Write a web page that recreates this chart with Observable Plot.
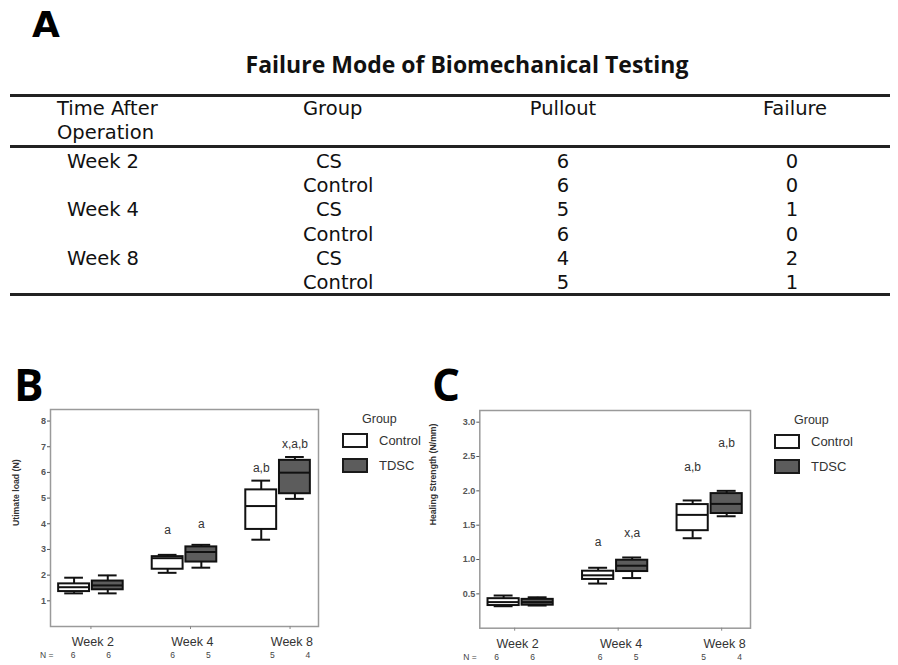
<!DOCTYPE html>
<html><head><meta charset="utf-8">
<script src="https://cdn.jsdelivr.net/npm/d3@7"></script>
<script src="https://cdn.jsdelivr.net/npm/@observablehq/plot@0.6"></script>
<style>
body{margin:0;background:#fff;}
#root{position:relative;width:898px;height:665px;overflow:hidden;font-family:"Liberation Sans",Arial,sans-serif;color:#111;}
.abs{position:absolute;}
.panel{font-family:"Open Sans",sans-serif;font-weight:700;font-size:44px;line-height:44px;color:#000;}
#title{left:0;width:934px;top:51px;text-align:center;font-family:"Open Sans",sans-serif;font-weight:700;font-size:23px;line-height:26px;color:#111;}
#tbl{position:absolute;left:10px;top:94px;width:880px;border-collapse:collapse;table-layout:fixed;font-family:"DejaVu Sans",sans-serif;font-size:19.5px;color:#111;border-top:3px solid #222;border-bottom:3px solid #222;}
#tbl td{padding:0;white-space:nowrap;}
#tbl thead tr{border-bottom:3px solid #222;}
#tbl thead td{height:48px;line-height:24px;vertical-align:top;}
#tbl thead td span{display:block;position:relative;top:0px;}
#tbl tbody td{height:24.2px;line-height:24.2px;}
#tbl tbody td span{position:relative;top:2px;}
.leg{font-family:"Liberation Sans",Arial,sans-serif;color:#333;}
.legtitle{font-size:12.5px;line-height:14px;}
.legtext{font-size:13px;line-height:16px;}
.sw{box-sizing:border-box;border:2px solid #1a1a1a;}
</style></head><body><div id="root"></div>
<script>
// ---------- Table (panel A) ----------
const tableHeader = ["Time After\nOperation", "Group", "Pullout", "Failure"];
const tableTime = ["Week 2", "", "Week 4", "", "Week 8", ""];
const tableGroup = ["CS", "Control", "CS", "Control", "CS", "Control"];
const tablePullout = [6, 6, 5, 6, 4, 5];
const tableFailure = [0, 0, 1, 0, 2, 1];

// ---------- Box plots (panels B, C) ----------
const weeks = ["Week 2", "Week 4", "Week 8"];
const groups = ["Control", "TDSC"];
const sampleN = [[6, 6], [6, 5], [5, 4]];
// [min, q1, median, q3, max] per week
const loadControl = [[1.29, 1.36, 1.53, 1.66, 1.90], [2.09, 2.23, 2.66, 2.72, 2.79], [3.38, 3.78, 4.69, 5.32, 5.68]];
const loadTDSC    = [[1.29, 1.43, 1.60, 1.77, 1.99], [2.29, 2.51, 2.90, 3.10, 3.18], [4.97, 5.17, 5.99, 6.47, 6.60]];
const loadLetters = [["", ""], ["a", "a"], ["a,b", "x,a,b"]];
const loadLetterAt = [[null, null], [3.74, 4.0], [6.18, 7.09]];
const loadTicks = [1, 2, 3, 4, 5, 6, 7, 8];

const healControl = [[0.32, 0.33, 0.38, 0.43, 0.476], [0.65, 0.71, 0.77, 0.83, 0.88], [1.31, 1.42, 1.65, 1.80, 1.86]];
const healTDSC    = [[0.33, 0.335, 0.38, 0.42, 0.45], [0.73, 0.825, 0.91, 0.99, 1.03], [1.63, 1.67, 1.81, 1.96, 2.00]];
const healLetters = [["", ""], ["a", "x,a"], ["a,b", "a,b"]];
const healLetterAt = [[null, null], [1.25, 1.38], [2.34, 2.69]];
const healTicks = [0.5, 1.0, 1.5, 2.0, 2.5, 3.0];

const root = document.getElementById("root");

function addDiv(cls, text, style) {
  const d = document.createElement("div");
  d.className = "abs " + cls;
  d.textContent = text;
  Object.assign(d.style, style);
  root.appendChild(d);
  return d;
}

// Panel letters and title
addDiv("panel", "A", {left: "32px", top: "7px", fontFamily: "'DejaVu Sans',sans-serif", fontSize: "36px", lineHeight: "36px"});
const title = addDiv("", "Failure Mode of Biomechanical Testing", {});
title.id = "title";
addDiv("panel", "B", {left: "14px", top: "362px"});
addDiv("panel", "C", {left: "432px", top: "362px"});

// Table
const tbl = d3.select(root).append("table").attr("id", "tbl");
const cg = tbl.append("colgroup");
[293, 170, 180, 237].forEach(w => cg.append("col").style("width", w + "px"));
const hr = tbl.append("thead").append("tr");
const headPad = ["0 0 0 47px", "0", "0", "0 0 0 47px"];
const headAlign = ["left", "left", "center", "center"];
tableHeader.forEach((h, j) => {
  const td = hr.append("td").style("padding", headPad[j]).style("text-align", headAlign[j]);
  h.split("\n").forEach(line => td.append("span").text(line));
});
const tb = tbl.append("tbody");
tableGroup.forEach((g, r) => {
  const tr = tb.append("tr");
  tr.append("td").style("padding-left", "57px").append("span").text(tableTime[r]);
  tr.append("td").style("padding-left", g === "CS" ? "13px" : "0").append("span").text(g);
  tr.append("td").style("text-align", "center").append("span").text(tablePullout[r]);
  tr.append("td").style("text-align", "center").style("padding-left", "41px").append("span").text(tableFailure[r]);
});

// Box plot builder
function buildRows(ctrl, tdsc, letters, letterAt) {
  const rows = [];
  weeks.forEach((w, i) => {
    [ctrl, tdsc].forEach((src, g) => {
      const [min, q1, median, q3, max] = src[i];
      rows.push({week: w, group: groups[g], i, g, min, q1, median, q3, max,
        n: sampleN[i][g], letter: letters[i][g], letterAt: letterAt[i][g]});
    });
  });
  return rows;
}

function boxPlot(o) {
  const off = 0.18, hw = 0.165, cw = 0.1, nOff = 0.19;
  const xc = d => d.i + (d.g ? off : -off);
  const tickX = i => o.tickShift + o.tickStretch * i;
  const rows = o.rows;
  const boxStroke = {stroke: "#111", strokeWidth: 2};
  return Plot.plot({
    width: o.width, height: 265,
    marginLeft: o.marginLeft, marginRight: o.marginRight, marginTop: o.marginTop, marginBottom: o.marginBottom,
    x: {domain: [-0.432, 2.432], axis: null},
    y: {domain: o.yDomain, axis: null},
    style: {fontFamily: "'Liberation Sans', Arial, sans-serif", background: "transparent", overflow: "visible"},
    marks: [
      Plot.frame({stroke: "#9a9a9a", strokeWidth: 1.5}),
      Plot.axisY({ticks: o.yTicks, tickFormat: o.tickFormat, tickSize: 3, tickPadding: 1.5, fontSize: 9, fontWeight: "bold", color: "#555", label: null}),
      Plot.axisX({ticks: weeks.map((w, i) => tickX(i)), tickFormat: () => "", tickSize: 3, color: "#888", label: null}),
      Plot.ruleX(rows, {x: xc, y1: "q3", y2: "max", ...boxStroke}),
      Plot.ruleX(rows, {x: xc, y1: "min", y2: "q1", ...boxStroke}),
      Plot.ruleY(rows, {y: "max", x1: d => xc(d) - cw, x2: d => xc(d) + cw, ...boxStroke}),
      Plot.ruleY(rows, {y: "min", x1: d => xc(d) - cw, x2: d => xc(d) + cw, ...boxStroke}),
      Plot.rect(rows, {x1: d => xc(d) - hw, x2: d => xc(d) + hw, y1: "q1", y2: "q3", fill: d => d.g ? "#5c5c5c" : "#ffffff", ...boxStroke}),
      Plot.ruleY(rows, {y: "median", x1: d => xc(d) - hw, x2: d => xc(d) + hw, ...boxStroke}),
      Plot.text(rows.filter(d => d.letter), {x: xc, y: "letterAt", text: "letter", fontSize: 12, fill: "#333"}),
      Plot.text(weeks, {x: (d, i) => tickX(i) + o.weekShift, frameAnchor: "bottom", dy: o.weekDy, text: d => d, fontSize: 12.5, fill: "#333"}),
      Plot.text(rows, {x: d => tickX(d.i) + (d.g ? nOff : -nOff), frameAnchor: "bottom", dy: o.nDy, text: d => String(d.n), fontSize: 8.5, fill: "#444"}),
      Plot.text(["N ="], {frameAnchor: "bottom-left", dx: o.nDx, dy: o.nDy, textAnchor: "end", fontSize: 8.5, fill: "#444"}),
      Plot.text([o.yLabel], {frameAnchor: "left", rotate: -90, dx: o.labelDx, dy: o.labelDy, fontSize: 8.7, fontWeight: "bold", fill: "#333"})
    ]
  });
}

const plotB = boxPlot({
  rows: buildRows(loadControl, loadTDSC, loadLetters, loadLetterAt),
  yDomain: [0, 8.45], yTicks: loadTicks, tickFormat: d => String(d),
  yLabel: "Utimate load (N)", labelDx: -34, labelDy: 8,
  width: 330, marginLeft: 50, marginRight: 12, marginTop: 9, marginBottom: 39,
  tickShift: 0, tickStretch: 1.064, weekShift: 0.02, weekDy: 19, nDy: 31, nDx: 3
});
plotB.style.position = "absolute"; plotB.style.left = "0px"; plotB.style.top = "400px";
root.appendChild(plotB);

const plotC = boxPlot({
  rows: buildRows(healControl, healTDSC, healLetters, healLetterAt),
  yDomain: [0, 3.17], yTicks: healTicks, tickFormat: d => d.toFixed(1),
  yLabel: "Healing Strength (N/mm)", labelDx: -46.5, labelDy: 6,
  width: 340, marginLeft: 59.3, marginRight: 10, marginTop: 10, marginBottom: 37.3,
  tickShift: -0.063, tickStretch: 1.095, weekShift: 0.03, weekDy: 20, nDy: 32, nDx: -3
});
plotC.style.position = "absolute"; plotC.style.left = "420px"; plotC.style.top = "400px";
root.appendChild(plotC);

// Legends
function legend(x0, y0) {
  addDiv("leg legtitle", "Group", {left: (x0 + 20) + "px", top: (y0 - 15) + "px"});
  groups.forEach((g, k) => {
    addDiv("sw", "", {left: x0 + "px", top: (y0 + 6 + k * 25) + "px", width: "26px", height: "15px",
      background: k ? "#5c5c5c" : "#ffffff"});
    addDiv("leg legtext", g, {left: (x0 + 37) + "px", top: (y0 + 6 + k * 25) + "px"});
  });
}
legend(342, 427);
legend(774, 428);
</script></body></html>
